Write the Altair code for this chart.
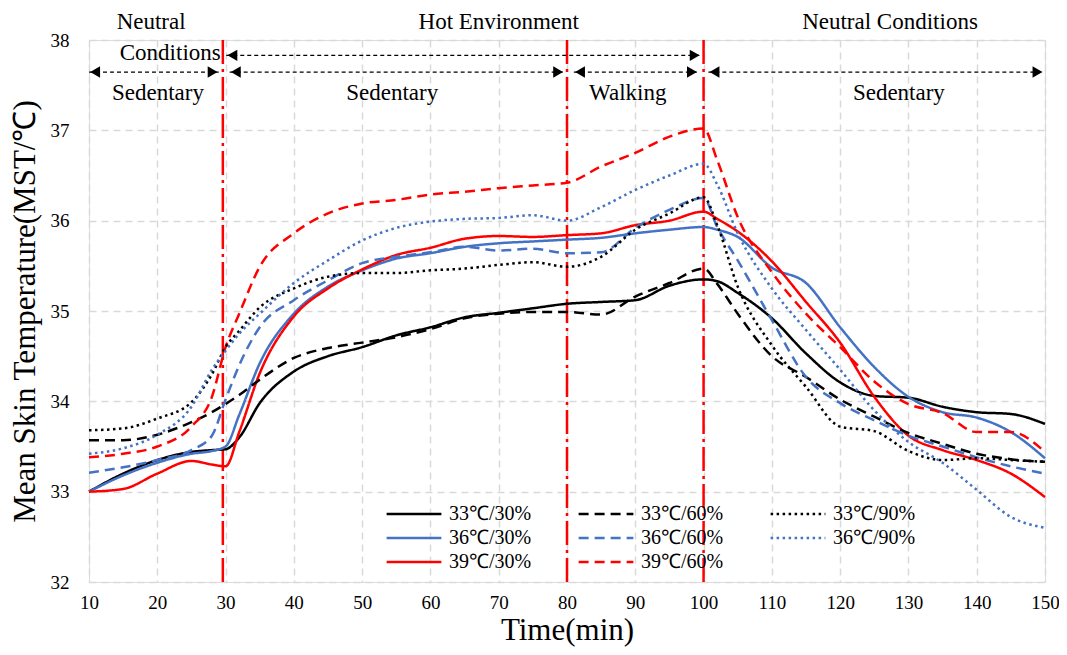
import altair as alt
import pandas as pd

# ---------------- data ----------------
time = [10, 15, 20, 25, 28, 30, 32, 35, 40, 45, 50, 55, 60, 65, 70, 75, 80,
        85, 90, 95, 100, 102, 105, 110, 115, 120, 125, 130, 135, 140, 145, 150]

t33_rh30 = [33.00, 33.20, 33.35, 33.44, 33.46, 33.47, 33.60, 33.98, 34.33, 34.50, 34.60, 34.73, 34.82, 34.93, 34.98, 35.03, 35.08,
            35.10, 35.12, 35.28, 35.35, 35.33, 35.20, 34.92, 34.53, 34.21, 34.06, 34.04, 33.94, 33.88, 33.86, 33.75]
t33_rh60 = [33.57, 33.57, 33.63, 33.77, 33.88, 33.97, 34.07, 34.24, 34.48, 34.59, 34.65, 34.71, 34.80, 34.92, 34.97, 34.99, 34.99,
            34.96, 35.16, 35.31, 35.47, 35.30, 34.97, 34.50, 34.27, 34.02, 33.83, 33.65, 33.53, 33.42, 33.36, 33.33]
t33_rh90 = [33.68, 33.70, 33.81, 33.99, 34.30, 34.60, 34.78, 35.04, 35.25, 35.38, 35.42, 35.42, 35.45, 35.47, 35.51, 35.54, 35.49,
            35.60, 35.90, 36.08, 36.26, 35.95, 35.27, 34.62, 34.16, 33.72, 33.67, 33.45, 33.35, 33.37, 33.35, 33.33]
t36_rh30 = [33.00, 33.18, 33.32, 33.42, 33.45, 33.50, 33.85, 34.42, 34.97, 35.27, 35.45, 35.58, 35.64, 35.71, 35.75, 35.77, 35.79,
            35.81, 35.86, 35.90, 35.93, 35.90, 35.82, 35.48, 35.31, 34.82, 34.38, 34.05, 33.88, 33.82, 33.66, 33.37]
t36_rh60 = [33.21, 33.27, 33.35, 33.46, 33.62, 34.02, 34.40, 34.82, 35.12, 35.34, 35.53, 35.60, 35.65, 35.71, 35.67, 35.69, 35.64,
            35.65, 35.92, 36.12, 36.25, 35.93, 35.56, 34.90, 34.27, 33.98, 33.79, 33.62, 33.50, 33.38, 33.28, 33.20]
t36_rh90 = [33.42, 33.48, 33.63, 33.94, 34.35, 34.56, 34.75, 34.97, 35.31, 35.56, 35.78, 35.92, 35.99, 36.02, 36.03, 36.06, 36.00,
            36.15, 36.34, 36.50, 36.63, 36.40, 35.86, 35.25, 34.79, 34.35, 33.90, 33.55, 33.32, 33.02, 32.72, 32.60]
t39_rh30 = [33.00, 33.03, 33.20, 33.34, 33.30, 33.28, 33.66, 34.31, 34.94, 35.25, 35.46, 35.62, 35.70, 35.80, 35.83, 35.82, 35.84,
            35.86, 35.95, 36.00, 36.10, 36.02, 35.88, 35.55, 35.10, 34.65, 34.05, 33.62, 33.46, 33.35, 33.20, 32.94]
t39_rh60 = [33.38, 33.42, 33.50, 33.72, 34.05, 34.60, 34.97, 35.49, 35.86, 36.08, 36.19, 36.23, 36.29, 36.32, 36.36, 36.39, 36.42,
            36.60, 36.75, 36.93, 37.02, 36.67, 36.04, 35.43, 34.97, 34.60, 34.22, 33.97, 33.87, 33.66, 33.66, 33.44]

# legend is filled column by column: 30% column, 60% column, 90% column
series_names = ["33℃/30%", "36℃/30%", "39℃/30%",
                "33℃/60%", "36℃/60%", "39℃/60%",
                "33℃/90%", "36℃/90%"]
series_values = [t33_rh30, t36_rh30, t39_rh30, t33_rh60, t36_rh60, t39_rh60, t33_rh90, t36_rh90]

x_ticks = list(range(10, 151, 10))
y_ticks = [32, 33, 34, 35, 36, 37, 38]

# phase boundaries (min)
phase_lines = [29.6, 80, 100]

# annotation texts
top_labels = ["Neutral", "Conditions", "Hot Environment", "Neutral Conditions"]
top_label_t = [19.1, 21.9, 70.0, 127.3]
top_label_v = [38.2, 37.86, 38.2, 38.2]
act_labels = ["Sedentary", "Sedentary", "Walking", "Sedentary"]
act_label_t = [20.1, 54.4, 88.9, 128.6]
act_label_v = [37.41, 37.41, 37.41, 37.41]

# double-headed arrows (start, end, level)
arrow_start = [30.1, 10.0, 30.6, 81.0, 100.7]
arrow_end = [99.6, 29.0, 79.6, 99.2, 149.8]
arrow_level = [37.83, 37.645, 37.645, 37.645, 37.645]

# ---------------- styling ----------------
colors = ["#000000", "#4472C4", "#FF0000",
          "#000000", "#4472C4", "#FF0000",
          "#000000", "#4472C4"]
dashes = [[1, 0], [1, 0], [1, 0],
          [10, 6], [10, 6], [10, 6],
          [2.5, 3.5], [2.5, 3.5]]
FONT = "Liberation Serif"

rows = []
for name, vals in zip(series_names, series_values):
    for t, v in zip(time, vals):
        rows.append({"t": t, "v": v, "series": name})
df = pd.DataFrame(rows)

xs = alt.Scale(domain=[10, 150], nice=False, zero=False)
ys = alt.Scale(domain=[32, 38], nice=False, zero=False)
xaxis = alt.Axis(values=x_ticks, title="Time(min)", grid=True, ticks=False, domain=False,
                 labelFont=FONT, labelFontSize=19, labelColor="black", labelPadding=11,
                 titleFont=FONT, titleFontSize=31, titleFontWeight="normal", titleColor="black",
                 titlePadding=3, gridColor="#d9d9d9", gridDash=[7, 5], gridWidth=1.5,
                 labelFlush=False)
yaxis = alt.Axis(values=y_ticks, title="Mean Skin Temperature(MST/℃)", grid=True, ticks=False,
                 domain=False, labelFont=FONT, labelFontSize=19, labelColor="black",
                 labelPadding=20, titleFont=FONT, titleFontSize=31, titleFontWeight="normal",
                 titleColor="black", titlePadding=9, gridColor="#d9d9d9", gridDash=[7, 5],
                 gridWidth=1.5, labelFlush=False)

X = alt.X("t:Q", scale=xs, axis=xaxis)
Y = alt.Y("v:Q", scale=ys, axis=yaxis)

leg = alt.Legend(orient="none", legendX=296, legendY=464, columns=3, title=None,
                 symbolType="stroke", symbolSize=3000, symbolStrokeWidth=2.5,
                 labelFont=FONT, labelFontSize=20, labelColor="black", labelOffset=6,
                 columnPadding=45, rowPadding=4, clipHeight=20, padding=0, labelLimit=200)

lines = alt.Chart(df).mark_line(strokeWidth=2.5, interpolate="monotone").encode(
    x=X, y=Y,
    color=alt.Color("series:N", scale=alt.Scale(domain=series_names, range=colors), legend=leg),
    strokeDash=alt.StrokeDash("series:N", scale=alt.Scale(domain=series_names, range=dashes), legend=leg),
)

vdf = pd.DataFrame({"t": phase_lines, "v": [32] * len(phase_lines), "v2": [38] * len(phase_lines)})
vlines = alt.Chart(vdf).mark_rule(color="#FF0000", strokeWidth=2.5, strokeDash=[24, 5, 3, 5]).encode(
    x=X, y=Y, y2="v2:Q")

adf = pd.DataFrame({"t": arrow_start, "t2": arrow_end, "v": arrow_level})
arrows = alt.Chart(adf).mark_rule(color="black", strokeWidth=1.3, strokeDash=[4, 3]).encode(
    x=X, x2="t2:Q", y=Y)

head_off = 0.9
ldf = pd.DataFrame({"t": [s + head_off for s in arrow_start], "v": arrow_level})
rdf = pd.DataFrame({"t": [e - head_off for e in arrow_end], "v": arrow_level})
lheads = alt.Chart(ldf).mark_point(shape="triangle-left", filled=True, size=130, color="black",
                                   opacity=1).encode(x=X, y=Y)
rheads = alt.Chart(rdf).mark_point(shape="triangle-right", filled=True, size=130, color="black",
                                   opacity=1).encode(x=X, y=Y)

tdf = pd.DataFrame({"t": top_label_t + act_label_t, "v": top_label_v + act_label_v,
                    "label": top_labels + act_labels})
texts = alt.Chart(tdf).mark_text(font=FONT, fontSize=23, color="black", baseline="middle",
                                 align="center").encode(x=X, y=Y, text="label:N")

chart = alt.layer(vlines, lines, arrows, lheads, rheads, texts).properties(
    width=956, height=542,
    autosize=alt.AutoSizeParams(type="none"),
    padding={"left": 81, "top": 32, "right": 14, "bottom": 65},
).configure_view(stroke="black", strokeWidth=2).configure(background="white")

chart.save("out.html", embed_options={"renderer": "svg", "actions": False})
